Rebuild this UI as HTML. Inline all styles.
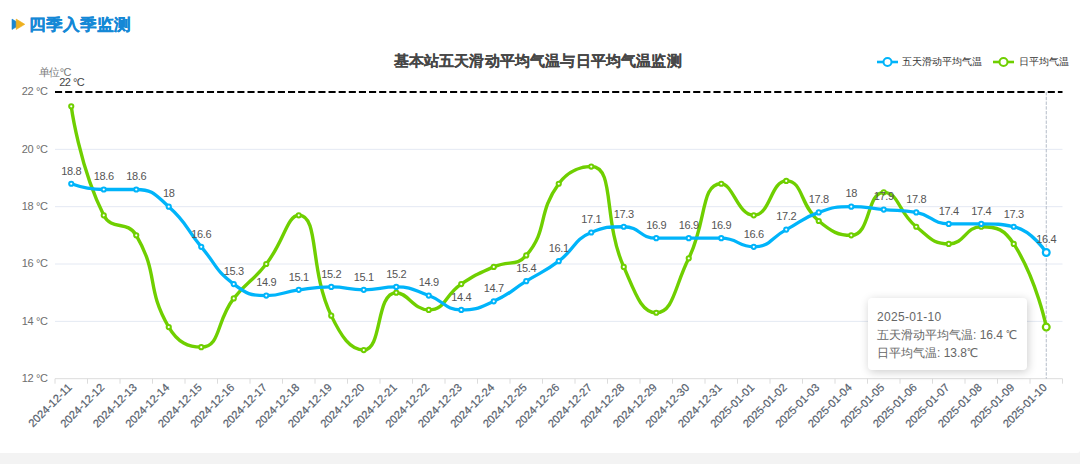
<!DOCTYPE html>
<html><head><meta charset="utf-8"><style>
html,body{margin:0;padding:0;background:#f3f3f3;width:1080px;height:464px;overflow:hidden;position:relative;font-family:"Liberation Sans",sans-serif}
.yl{font-size:11px;letter-spacing:-0.4px;fill:#6e6e6e;font-family:"Liberation Sans",sans-serif}
.xl{font-size:11.1px;fill:#56606c;stroke:#56606c;stroke-width:0.2px;font-family:"Liberation Sans",sans-serif}
.dl{font-size:11px;letter-spacing:-0.3px;fill:#555;font-family:"Liberation Sans",sans-serif}
#hdr{position:absolute;left:28.9px;top:13.3px;font-size:16.8px;transform:scaleY(0.96);transform-origin:0 22px;font-weight:bold;color:#1488d6;line-height:24px;white-space:nowrap;-webkit-text-stroke:0.3px #1488d6}
#icon{position:absolute;left:12px;top:19px}
#title{position:absolute;left:0;width:1075.4px;top:49.6px;text-align:center;font-size:15px;letter-spacing:0.16px;font-weight:bold;color:#464646;line-height:22px;white-space:nowrap;-webkit-text-stroke:0.1px #464646}
.leg{position:absolute;top:54px;font-size:10.2px;color:#333;line-height:16px;white-space:nowrap}
#unit{position:absolute;left:39px;top:64px;font-size:11px;letter-spacing:-0.6px;color:#7a7a7a;line-height:16px;white-space:nowrap}
#ml{position:absolute;left:59.3px;top:73.6px;font-size:11px;letter-spacing:-0.55px;color:#444;line-height:16px;white-space:nowrap}
#tip{position:absolute;left:868px;top:298.4px;width:158.6px;height:71.4px;background:#fff;border-radius:4px;box-shadow:1px 2px 10px rgba(0,0,0,0.2)}
#tip div{position:absolute;left:9px;font-size:12px;color:#666;line-height:18px;white-space:nowrap}
#card{position:absolute;left:0;top:0;width:1080px;height:452.9px;background:#fff;border-bottom-right-radius:3px}
</style></head><body>
<div id="card"></div>
<svg width="1080" height="464" viewBox="0 0 1080 464" style="position:absolute;left:0;top:0"><line x1="55.0" y1="321.36" x2="1062.5" y2="321.36" stroke="#e4e9f3" stroke-width="1"/><line x1="55.0" y1="264.02" x2="1062.5" y2="264.02" stroke="#e4e9f3" stroke-width="1"/><line x1="55.0" y1="206.68" x2="1062.5" y2="206.68" stroke="#e4e9f3" stroke-width="1"/><line x1="55.0" y1="149.34" x2="1062.5" y2="149.34" stroke="#e4e9f3" stroke-width="1"/><line x1="55.0" y1="378.70" x2="1062.5" y2="378.70" stroke="#dcdcdc" stroke-width="1"/><line x1="55.00" y1="378.70" x2="55.00" y2="383.70" stroke="#dcdcdc" stroke-width="1"/><line x1="87.50" y1="378.70" x2="87.50" y2="383.70" stroke="#dcdcdc" stroke-width="1"/><line x1="120.00" y1="378.70" x2="120.00" y2="383.70" stroke="#dcdcdc" stroke-width="1"/><line x1="152.50" y1="378.70" x2="152.50" y2="383.70" stroke="#dcdcdc" stroke-width="1"/><line x1="185.00" y1="378.70" x2="185.00" y2="383.70" stroke="#dcdcdc" stroke-width="1"/><line x1="217.50" y1="378.70" x2="217.50" y2="383.70" stroke="#dcdcdc" stroke-width="1"/><line x1="250.00" y1="378.70" x2="250.00" y2="383.70" stroke="#dcdcdc" stroke-width="1"/><line x1="282.50" y1="378.70" x2="282.50" y2="383.70" stroke="#dcdcdc" stroke-width="1"/><line x1="315.00" y1="378.70" x2="315.00" y2="383.70" stroke="#dcdcdc" stroke-width="1"/><line x1="347.50" y1="378.70" x2="347.50" y2="383.70" stroke="#dcdcdc" stroke-width="1"/><line x1="380.00" y1="378.70" x2="380.00" y2="383.70" stroke="#dcdcdc" stroke-width="1"/><line x1="412.50" y1="378.70" x2="412.50" y2="383.70" stroke="#dcdcdc" stroke-width="1"/><line x1="445.00" y1="378.70" x2="445.00" y2="383.70" stroke="#dcdcdc" stroke-width="1"/><line x1="477.50" y1="378.70" x2="477.50" y2="383.70" stroke="#dcdcdc" stroke-width="1"/><line x1="510.00" y1="378.70" x2="510.00" y2="383.70" stroke="#dcdcdc" stroke-width="1"/><line x1="542.50" y1="378.70" x2="542.50" y2="383.70" stroke="#dcdcdc" stroke-width="1"/><line x1="575.00" y1="378.70" x2="575.00" y2="383.70" stroke="#dcdcdc" stroke-width="1"/><line x1="607.50" y1="378.70" x2="607.50" y2="383.70" stroke="#dcdcdc" stroke-width="1"/><line x1="640.00" y1="378.70" x2="640.00" y2="383.70" stroke="#dcdcdc" stroke-width="1"/><line x1="672.50" y1="378.70" x2="672.50" y2="383.70" stroke="#dcdcdc" stroke-width="1"/><line x1="705.00" y1="378.70" x2="705.00" y2="383.70" stroke="#dcdcdc" stroke-width="1"/><line x1="737.50" y1="378.70" x2="737.50" y2="383.70" stroke="#dcdcdc" stroke-width="1"/><line x1="770.00" y1="378.70" x2="770.00" y2="383.70" stroke="#dcdcdc" stroke-width="1"/><line x1="802.50" y1="378.70" x2="802.50" y2="383.70" stroke="#dcdcdc" stroke-width="1"/><line x1="835.00" y1="378.70" x2="835.00" y2="383.70" stroke="#dcdcdc" stroke-width="1"/><line x1="867.50" y1="378.70" x2="867.50" y2="383.70" stroke="#dcdcdc" stroke-width="1"/><line x1="900.00" y1="378.70" x2="900.00" y2="383.70" stroke="#dcdcdc" stroke-width="1"/><line x1="932.50" y1="378.70" x2="932.50" y2="383.70" stroke="#dcdcdc" stroke-width="1"/><line x1="965.00" y1="378.70" x2="965.00" y2="383.70" stroke="#dcdcdc" stroke-width="1"/><line x1="997.50" y1="378.70" x2="997.50" y2="383.70" stroke="#dcdcdc" stroke-width="1"/><line x1="1030.00" y1="378.70" x2="1030.00" y2="383.70" stroke="#dcdcdc" stroke-width="1"/><line x1="1062.50" y1="378.70" x2="1062.50" y2="383.70" stroke="#dcdcdc" stroke-width="1"/><text x="47.5" y="382.10" text-anchor="end" class="yl">12 °C</text><text x="47.5" y="324.76" text-anchor="end" class="yl">14 °C</text><text x="47.5" y="267.42" text-anchor="end" class="yl">16 °C</text><text x="47.5" y="210.08" text-anchor="end" class="yl">18 °C</text><text x="47.5" y="152.74" text-anchor="end" class="yl">20 °C</text><text x="47.5" y="95.40" text-anchor="end" class="yl">22 °C</text><text transform="translate(69.55,385.20) rotate(-45)" x="0" y="4.2" text-anchor="end" class="xl">2024-12-11</text><text transform="translate(102.05,385.20) rotate(-45)" x="0" y="4.2" text-anchor="end" class="xl">2024-12-12</text><text transform="translate(134.55,385.20) rotate(-45)" x="0" y="4.2" text-anchor="end" class="xl">2024-12-13</text><text transform="translate(167.05,385.20) rotate(-45)" x="0" y="4.2" text-anchor="end" class="xl">2024-12-14</text><text transform="translate(199.55,385.20) rotate(-45)" x="0" y="4.2" text-anchor="end" class="xl">2024-12-15</text><text transform="translate(232.05,385.20) rotate(-45)" x="0" y="4.2" text-anchor="end" class="xl">2024-12-16</text><text transform="translate(264.55,385.20) rotate(-45)" x="0" y="4.2" text-anchor="end" class="xl">2024-12-17</text><text transform="translate(297.05,385.20) rotate(-45)" x="0" y="4.2" text-anchor="end" class="xl">2024-12-18</text><text transform="translate(329.55,385.20) rotate(-45)" x="0" y="4.2" text-anchor="end" class="xl">2024-12-19</text><text transform="translate(362.05,385.20) rotate(-45)" x="0" y="4.2" text-anchor="end" class="xl">2024-12-20</text><text transform="translate(394.55,385.20) rotate(-45)" x="0" y="4.2" text-anchor="end" class="xl">2024-12-21</text><text transform="translate(427.05,385.20) rotate(-45)" x="0" y="4.2" text-anchor="end" class="xl">2024-12-22</text><text transform="translate(459.55,385.20) rotate(-45)" x="0" y="4.2" text-anchor="end" class="xl">2024-12-23</text><text transform="translate(492.05,385.20) rotate(-45)" x="0" y="4.2" text-anchor="end" class="xl">2024-12-24</text><text transform="translate(524.55,385.20) rotate(-45)" x="0" y="4.2" text-anchor="end" class="xl">2024-12-25</text><text transform="translate(557.05,385.20) rotate(-45)" x="0" y="4.2" text-anchor="end" class="xl">2024-12-26</text><text transform="translate(589.55,385.20) rotate(-45)" x="0" y="4.2" text-anchor="end" class="xl">2024-12-27</text><text transform="translate(622.05,385.20) rotate(-45)" x="0" y="4.2" text-anchor="end" class="xl">2024-12-28</text><text transform="translate(654.55,385.20) rotate(-45)" x="0" y="4.2" text-anchor="end" class="xl">2024-12-29</text><text transform="translate(687.05,385.20) rotate(-45)" x="0" y="4.2" text-anchor="end" class="xl">2024-12-30</text><text transform="translate(719.55,385.20) rotate(-45)" x="0" y="4.2" text-anchor="end" class="xl">2024-12-31</text><text transform="translate(752.05,385.20) rotate(-45)" x="0" y="4.2" text-anchor="end" class="xl">2025-01-01</text><text transform="translate(784.55,385.20) rotate(-45)" x="0" y="4.2" text-anchor="end" class="xl">2025-01-02</text><text transform="translate(817.05,385.20) rotate(-45)" x="0" y="4.2" text-anchor="end" class="xl">2025-01-03</text><text transform="translate(849.55,385.20) rotate(-45)" x="0" y="4.2" text-anchor="end" class="xl">2025-01-04</text><text transform="translate(882.05,385.20) rotate(-45)" x="0" y="4.2" text-anchor="end" class="xl">2025-01-05</text><text transform="translate(914.55,385.20) rotate(-45)" x="0" y="4.2" text-anchor="end" class="xl">2025-01-06</text><text transform="translate(947.05,385.20) rotate(-45)" x="0" y="4.2" text-anchor="end" class="xl">2025-01-07</text><text transform="translate(979.55,385.20) rotate(-45)" x="0" y="4.2" text-anchor="end" class="xl">2025-01-08</text><text transform="translate(1012.05,385.20) rotate(-45)" x="0" y="4.2" text-anchor="end" class="xl">2025-01-09</text><text transform="translate(1044.55,385.20) rotate(-45)" x="0" y="4.2" text-anchor="end" class="xl">2025-01-10</text><line x1="1046.25" y1="92" x2="1046.25" y2="378.70" stroke="#b4bcc8" stroke-width="1" stroke-dasharray="3.4,1.35"/><line x1="55.0" y1="92" x2="1062.5" y2="92" stroke="#000" stroke-width="2" stroke-dasharray="7.1,3.03"/><path d="M71.25,106.33 C71.25,106.33 79.42,167.00 103.75,215.28 C111.92,231.50 127.09,219.59 136.25,235.35 C159.59,275.50 145.41,286.94 168.75,327.09 C177.91,342.85 188.42,347.16 201.25,347.16 C220.92,347.16 215.77,321.42 233.75,298.42 C248.27,279.85 251.73,282.60 266.25,264.02 C284.23,241.03 287.15,215.28 298.75,215.28 C319.65,215.28 308.82,269.12 331.25,315.63 C341.32,336.49 350.17,350.03 363.75,350.03 C382.67,350.03 375.39,292.69 396.25,292.69 C407.89,292.69 413.48,309.89 428.75,309.89 C445.98,309.89 444.02,295.49 461.25,284.09 C476.52,273.99 476.97,274.29 493.75,266.89 C509.47,259.95 516.35,266.89 526.25,255.42 C548.85,229.23 536.60,214.03 558.75,183.74 C569.10,169.59 582.85,166.54 591.25,166.54 C615.35,166.54 602.55,219.20 623.75,266.89 C635.05,292.31 640.98,312.76 656.25,312.76 C673.48,312.76 674.51,286.55 688.75,258.29 C707.01,222.05 700.38,183.74 721.25,183.74 C732.88,183.74 737.86,215.28 753.75,215.28 C770.36,215.28 770.71,180.88 786.25,180.88 C803.21,180.88 799.49,204.88 818.75,221.01 C831.99,232.11 838.34,235.35 851.25,235.35 C870.84,235.35 866.44,192.34 883.75,192.34 C898.94,192.34 897.96,212.23 916.25,226.75 C930.46,238.03 932.50,243.95 948.75,243.95 C965.00,243.95 965.00,226.75 981.25,226.75 C997.50,226.75 1004.27,229.31 1013.75,243.95 C1036.77,279.49 1046.25,327.09 1046.25,327.09" fill="none" stroke="#6fcf00" stroke-width="3.4" stroke-linejoin="round"/><path d="M71.25,183.74 C71.25,183.74 87.38,189.48 103.75,189.48 C119.88,189.48 121.00,189.48 136.25,189.48 C153.50,189.48 155.23,194.76 168.75,206.68 C187.73,223.43 184.65,227.05 201.25,246.82 C217.15,265.75 214.60,269.73 233.75,284.09 C247.10,294.10 249.65,295.56 266.25,295.56 C282.15,295.56 282.41,291.99 298.75,289.82 C314.91,287.69 315.00,286.96 331.25,286.96 C347.50,286.96 347.50,289.82 363.75,289.82 C380.00,289.82 380.24,286.96 396.25,286.96 C412.74,286.96 412.95,289.98 428.75,295.56 C445.45,301.45 444.55,309.89 461.25,309.89 C477.05,309.89 478.54,308.00 493.75,301.29 C511.04,293.67 510.00,291.26 526.25,281.22 C542.50,271.19 543.52,272.57 558.75,261.15 C576.02,248.20 572.80,240.01 591.25,232.48 C605.30,226.75 607.85,226.75 623.75,226.75 C640.35,226.75 639.52,238.22 656.25,238.22 C672.02,238.22 672.50,238.22 688.75,238.22 C705.00,238.22 705.27,238.22 721.25,238.22 C737.77,238.22 738.23,246.82 753.75,246.82 C770.73,246.82 770.00,238.22 786.25,229.62 C802.50,221.02 801.62,218.46 818.75,212.41 C834.12,206.99 834.91,206.68 851.25,206.68 C867.41,206.68 867.50,208.11 883.75,209.55 C900.00,210.98 900.45,209.55 916.25,212.41 C932.95,215.44 932.02,223.88 948.75,223.88 C964.52,223.88 965.03,223.88 981.25,223.88 C997.53,223.88 999.44,223.88 1013.75,226.75 C1031.94,230.40 1046.25,252.55 1046.25,252.55" fill="none" stroke="#00b4fa" stroke-width="3.3" stroke-linejoin="round"/><circle cx="71.25" cy="106.33" r="2.1" fill="#fff" stroke="#6fcf00" stroke-width="2"/><circle cx="103.75" cy="215.28" r="2.1" fill="#fff" stroke="#6fcf00" stroke-width="2"/><circle cx="136.25" cy="235.35" r="2.1" fill="#fff" stroke="#6fcf00" stroke-width="2"/><circle cx="168.75" cy="327.09" r="2.1" fill="#fff" stroke="#6fcf00" stroke-width="2"/><circle cx="201.25" cy="347.16" r="2.1" fill="#fff" stroke="#6fcf00" stroke-width="2"/><circle cx="233.75" cy="298.42" r="2.1" fill="#fff" stroke="#6fcf00" stroke-width="2"/><circle cx="266.25" cy="264.02" r="2.1" fill="#fff" stroke="#6fcf00" stroke-width="2"/><circle cx="298.75" cy="215.28" r="2.1" fill="#fff" stroke="#6fcf00" stroke-width="2"/><circle cx="331.25" cy="315.63" r="2.1" fill="#fff" stroke="#6fcf00" stroke-width="2"/><circle cx="363.75" cy="350.03" r="2.1" fill="#fff" stroke="#6fcf00" stroke-width="2"/><circle cx="396.25" cy="292.69" r="2.1" fill="#fff" stroke="#6fcf00" stroke-width="2"/><circle cx="428.75" cy="309.89" r="2.1" fill="#fff" stroke="#6fcf00" stroke-width="2"/><circle cx="461.25" cy="284.09" r="2.1" fill="#fff" stroke="#6fcf00" stroke-width="2"/><circle cx="493.75" cy="266.89" r="2.1" fill="#fff" stroke="#6fcf00" stroke-width="2"/><circle cx="526.25" cy="255.42" r="2.1" fill="#fff" stroke="#6fcf00" stroke-width="2"/><circle cx="558.75" cy="183.74" r="2.1" fill="#fff" stroke="#6fcf00" stroke-width="2"/><circle cx="591.25" cy="166.54" r="2.1" fill="#fff" stroke="#6fcf00" stroke-width="2"/><circle cx="623.75" cy="266.89" r="2.1" fill="#fff" stroke="#6fcf00" stroke-width="2"/><circle cx="656.25" cy="312.76" r="2.1" fill="#fff" stroke="#6fcf00" stroke-width="2"/><circle cx="688.75" cy="258.29" r="2.1" fill="#fff" stroke="#6fcf00" stroke-width="2"/><circle cx="721.25" cy="183.74" r="2.1" fill="#fff" stroke="#6fcf00" stroke-width="2"/><circle cx="753.75" cy="215.28" r="2.1" fill="#fff" stroke="#6fcf00" stroke-width="2"/><circle cx="786.25" cy="180.88" r="2.1" fill="#fff" stroke="#6fcf00" stroke-width="2"/><circle cx="818.75" cy="221.01" r="2.1" fill="#fff" stroke="#6fcf00" stroke-width="2"/><circle cx="851.25" cy="235.35" r="2.1" fill="#fff" stroke="#6fcf00" stroke-width="2"/><circle cx="883.75" cy="192.34" r="2.1" fill="#fff" stroke="#6fcf00" stroke-width="2"/><circle cx="916.25" cy="226.75" r="2.1" fill="#fff" stroke="#6fcf00" stroke-width="2"/><circle cx="948.75" cy="243.95" r="2.1" fill="#fff" stroke="#6fcf00" stroke-width="2"/><circle cx="981.25" cy="226.75" r="2.1" fill="#fff" stroke="#6fcf00" stroke-width="2"/><circle cx="1013.75" cy="243.95" r="2.1" fill="#fff" stroke="#6fcf00" stroke-width="2"/><circle cx="1046.25" cy="327.09" r="3.4" fill="#fff" stroke="#6fcf00" stroke-width="2.2"/><circle cx="71.25" cy="183.74" r="2.1" fill="#fff" stroke="#00b4fa" stroke-width="2"/><circle cx="103.75" cy="189.48" r="2.1" fill="#fff" stroke="#00b4fa" stroke-width="2"/><circle cx="136.25" cy="189.48" r="2.1" fill="#fff" stroke="#00b4fa" stroke-width="2"/><circle cx="168.75" cy="206.68" r="2.1" fill="#fff" stroke="#00b4fa" stroke-width="2"/><circle cx="201.25" cy="246.82" r="2.1" fill="#fff" stroke="#00b4fa" stroke-width="2"/><circle cx="233.75" cy="284.09" r="2.1" fill="#fff" stroke="#00b4fa" stroke-width="2"/><circle cx="266.25" cy="295.56" r="2.1" fill="#fff" stroke="#00b4fa" stroke-width="2"/><circle cx="298.75" cy="289.82" r="2.1" fill="#fff" stroke="#00b4fa" stroke-width="2"/><circle cx="331.25" cy="286.96" r="2.1" fill="#fff" stroke="#00b4fa" stroke-width="2"/><circle cx="363.75" cy="289.82" r="2.1" fill="#fff" stroke="#00b4fa" stroke-width="2"/><circle cx="396.25" cy="286.96" r="2.1" fill="#fff" stroke="#00b4fa" stroke-width="2"/><circle cx="428.75" cy="295.56" r="2.1" fill="#fff" stroke="#00b4fa" stroke-width="2"/><circle cx="461.25" cy="309.89" r="2.1" fill="#fff" stroke="#00b4fa" stroke-width="2"/><circle cx="493.75" cy="301.29" r="2.1" fill="#fff" stroke="#00b4fa" stroke-width="2"/><circle cx="526.25" cy="281.22" r="2.1" fill="#fff" stroke="#00b4fa" stroke-width="2"/><circle cx="558.75" cy="261.15" r="2.1" fill="#fff" stroke="#00b4fa" stroke-width="2"/><circle cx="591.25" cy="232.48" r="2.1" fill="#fff" stroke="#00b4fa" stroke-width="2"/><circle cx="623.75" cy="226.75" r="2.1" fill="#fff" stroke="#00b4fa" stroke-width="2"/><circle cx="656.25" cy="238.22" r="2.1" fill="#fff" stroke="#00b4fa" stroke-width="2"/><circle cx="688.75" cy="238.22" r="2.1" fill="#fff" stroke="#00b4fa" stroke-width="2"/><circle cx="721.25" cy="238.22" r="2.1" fill="#fff" stroke="#00b4fa" stroke-width="2"/><circle cx="753.75" cy="246.82" r="2.1" fill="#fff" stroke="#00b4fa" stroke-width="2"/><circle cx="786.25" cy="229.62" r="2.1" fill="#fff" stroke="#00b4fa" stroke-width="2"/><circle cx="818.75" cy="212.41" r="2.1" fill="#fff" stroke="#00b4fa" stroke-width="2"/><circle cx="851.25" cy="206.68" r="2.1" fill="#fff" stroke="#00b4fa" stroke-width="2"/><circle cx="883.75" cy="209.55" r="2.1" fill="#fff" stroke="#00b4fa" stroke-width="2"/><circle cx="916.25" cy="212.41" r="2.1" fill="#fff" stroke="#00b4fa" stroke-width="2"/><circle cx="948.75" cy="223.88" r="2.1" fill="#fff" stroke="#00b4fa" stroke-width="2"/><circle cx="981.25" cy="223.88" r="2.1" fill="#fff" stroke="#00b4fa" stroke-width="2"/><circle cx="1013.75" cy="226.75" r="2.1" fill="#fff" stroke="#00b4fa" stroke-width="2"/><circle cx="1046.25" cy="252.55" r="3.4" fill="#fff" stroke="#00b4fa" stroke-width="2.2"/><text x="71.25" y="174.54" text-anchor="middle" class="dl">18.8</text><text x="103.75" y="180.28" text-anchor="middle" class="dl">18.6</text><text x="136.25" y="180.28" text-anchor="middle" class="dl">18.6</text><text x="168.75" y="197.48" text-anchor="middle" class="dl">18</text><text x="201.25" y="237.62" text-anchor="middle" class="dl">16.6</text><text x="233.75" y="274.89" text-anchor="middle" class="dl">15.3</text><text x="266.25" y="286.36" text-anchor="middle" class="dl">14.9</text><text x="298.75" y="280.62" text-anchor="middle" class="dl">15.1</text><text x="331.25" y="277.76" text-anchor="middle" class="dl">15.2</text><text x="363.75" y="280.62" text-anchor="middle" class="dl">15.1</text><text x="396.25" y="277.76" text-anchor="middle" class="dl">15.2</text><text x="428.75" y="286.36" text-anchor="middle" class="dl">14.9</text><text x="461.25" y="300.69" text-anchor="middle" class="dl">14.4</text><text x="493.75" y="292.09" text-anchor="middle" class="dl">14.7</text><text x="526.25" y="272.02" text-anchor="middle" class="dl">15.4</text><text x="558.75" y="251.95" text-anchor="middle" class="dl">16.1</text><text x="591.25" y="223.28" text-anchor="middle" class="dl">17.1</text><text x="623.75" y="217.55" text-anchor="middle" class="dl">17.3</text><text x="656.25" y="229.02" text-anchor="middle" class="dl">16.9</text><text x="688.75" y="229.02" text-anchor="middle" class="dl">16.9</text><text x="721.25" y="229.02" text-anchor="middle" class="dl">16.9</text><text x="753.75" y="237.62" text-anchor="middle" class="dl">16.6</text><text x="786.25" y="220.42" text-anchor="middle" class="dl">17.2</text><text x="818.75" y="203.21" text-anchor="middle" class="dl">17.8</text><text x="851.25" y="197.48" text-anchor="middle" class="dl">18</text><text x="883.75" y="200.35" text-anchor="middle" class="dl">17.9</text><text x="916.25" y="203.21" text-anchor="middle" class="dl">17.8</text><text x="948.75" y="214.68" text-anchor="middle" class="dl">17.4</text><text x="981.25" y="214.68" text-anchor="middle" class="dl">17.4</text><text x="1013.75" y="217.55" text-anchor="middle" class="dl">17.3</text><text x="1046.25" y="243.35" text-anchor="middle" class="dl">16.4</text></svg>
<svg style="position:absolute;left:0;top:0" width="30" height="40"><polygon points="12,19.1 20.7,24.3 12,29.5" fill="#1a86d0" stroke="#1a86d0" stroke-width="0.6" stroke-linejoin="round"/><polygon points="16.2,19.1 24.8,24.3 16.2,29.5" fill="#eeb01f" stroke="#eeb01f" stroke-width="0.6" stroke-linejoin="round"/></svg>
<div id="hdr">四季入季监测</div>
<div id="title">基本站五天滑动平均气温与日平均气温监测</div>
<div id="unit">单位°C</div>
<div id="ml">22 °C</div>
<svg style="position:absolute;left:877px;top:57.3px" width="21" height="10"><line x1="0" y1="5" x2="21" y2="5" stroke="#00b4fa" stroke-width="2.6"/><circle cx="10.5" cy="5" r="4" fill="#fff" stroke="#00b4fa" stroke-width="2"/></svg>
<div class="leg" style="left:902px">五天滑动平均气温</div>
<svg style="position:absolute;left:993px;top:57.3px" width="21" height="10"><line x1="0" y1="5" x2="21" y2="5" stroke="#6fcf00" stroke-width="2.6"/><circle cx="10.5" cy="5" r="4" fill="#fff" stroke="#6fcf00" stroke-width="2"/></svg>
<div class="leg" style="left:1019px">日平均气温</div>
<div id="tip"><div style="top:10px;letter-spacing:0.3px">2025-01-10</div><div style="top:27.8px">五天滑动平均气温: 16.4 ℃</div><div style="top:45.7px">日平均气温: 13.8℃</div></div>
</body></html>
